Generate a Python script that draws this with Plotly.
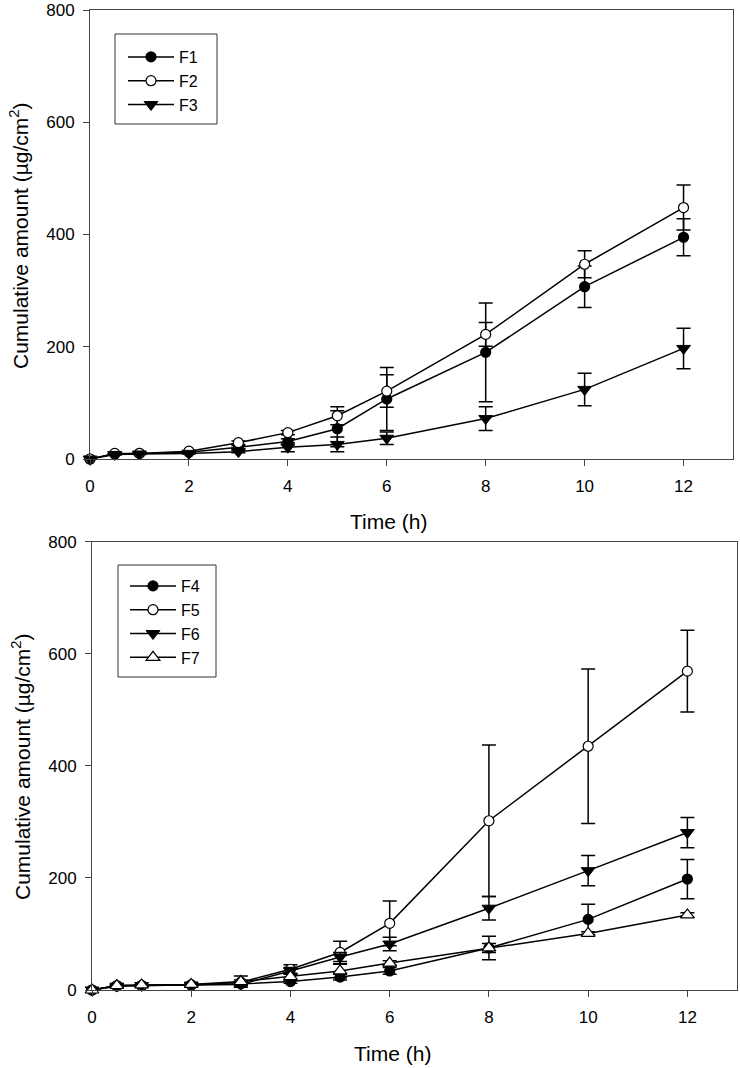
import plotly.graph_objects as go

time = [0, 0.5, 1, 2, 3, 4, 5, 6, 8, 10, 12]

# Top panel
f1 = [0, 9, 10, 12, 21, 31, 54, 107, 190, 307, 395]
f1_err = [0, 1, 1, 1, 3, 5, 32, 56, 88, 37, 33]
f2 = [0, 10, 10, 14, 29, 47, 77, 121, 222, 347, 448]
f2_err = [0, 1, 1, 1, 3, 4, 16, 29, 21, 24, 40]
f3 = [0, 8, 9, 10, 13, 21, 26, 37, 72, 124, 197]
f3_err = [0, 1, 1, 1, 2, 8, 13, 11, 21, 29, 36]

# Bottom panel
f4 = [0, 7, 8, 9, 11, 15, 23, 34, 75, 126, 198]
f4_err = [0, 1, 1, 1, 2, 3, 5, 6, 21, 27, 35]
f5 = [0, 8, 8, 9, 14, 37, 67, 119, 302, 435, 569]
f5_err = [0, 1, 1, 1, 4, 8, 20, 40, 135, 138, 73]
f6 = [0, 7, 8, 9, 10, 34, 59, 82, 146, 213, 281]
f6_err = [0, 1, 1, 1, 3, 6, 8, 12, 21, 27, 27]
f7 = [0, 8, 9, 10, 15, 24, 34, 48, 75, 101, 134]
f7_err = [0, 1, 1, 1, 10, 6, 12, 4, 8, 3, 4]

x_ticks = [0, 2, 4, 6, 8, 10, 12]
y_ticks = [0, 200, 400, 600, 800]

FONT = "Liberation Sans, Arial, sans-serif"

styles = {
    "filled": dict(symbol="circle", size=10, color="black", line=dict(color="black", width=1.2)),
    "open": dict(symbol="circle", size=10, color="white", line=dict(color="black", width=1.2)),
    "tridown": dict(symbol="triangle-down", size=12, color="black", line=dict(color="black", width=1)),
    "triup": dict(symbol="triangle-up", size=12, color="white", line=dict(color="black", width=1.2)),
}

fig = go.Figure()

def add(name, y, err, style, xa, ya, leg):
    fig.add_trace(go.Scatter(
        x=time, y=y, name=name, mode="lines+markers",
        line=dict(color="black", width=1.5),
        marker=styles[style],
        error_y=dict(type="data", array=err, color="black", thickness=1.5, width=7),
        xaxis=xa, yaxis=ya, legend=leg, cliponaxis=False,
    ))

add("F1", f1, f1_err, "filled", "x", "y", "legend")
add("F2", f2, f2_err, "open", "x", "y", "legend")
add("F3", f3, f3_err, "tridown", "x", "y", "legend")
add("F4", f4, f4_err, "filled", "x2", "y2", "legend2")
add("F5", f5, f5_err, "open", "x2", "y2", "legend2")
add("F6", f6, f6_err, "tridown", "x2", "y2", "legend2")
add("F7", f7, f7_err, "triup", "x2", "y2", "legend2")

W, H = 740, 1068

def px(v):
    return v / W

def py(v):
    return 1 - v / H

def xax(domain, anchor):
    return dict(domain=domain, anchor=anchor, range=[0, 13], tickvals=x_ticks,
                showline=True, linecolor="#444", linewidth=1, mirror=True,
                ticks="outside", ticklen=6, tickcolor="#444", showgrid=False, zeroline=False,
                automargin=False,
                tickfont=dict(family=FONT, size=17, color="black"), ticklabelstandoff=6)

def yax(domain, anchor):
    return dict(domain=domain, anchor=anchor, range=[0, 800], tickvals=y_ticks,
                showline=True, linecolor="#444", linewidth=1, mirror=True,
                ticks="outside", ticklen=6, tickcolor="#444", showgrid=False, zeroline=False,
                automargin=False,
                tickfont=dict(family=FONT, size=17, color="black"), ticklabelstandoff=5)

legend_common = dict(
    xanchor="left", yanchor="top", bgcolor="rgba(0,0,0,0)",
    borderwidth=0,
    font=dict(family=FONT, size=16, color="black"),
    tracegroupgap=0, itemwidth=46,
)

ytitle = "Cumulative amount (µg/cm<sup>2</sup>)"
title_font = dict(family=FONT, size=21, color="black")

def ann(text, x, y, angle=0):
    return dict(text=text, textangle=angle, x=px(x), y=py(y), xref="paper", yref="paper",
                xanchor="center", yanchor="middle", showarrow=False, font=title_font)

fig.update_layout(
    template="none",
    width=W, height=H,
    margin=dict(l=0, r=0, t=0, b=0, autoexpand=False),
    paper_bgcolor="white", plot_bgcolor="white",
    font=dict(family=FONT, color="black"),
    showlegend=True,
    xaxis=xax([px(90), px(733)], "y"),
    yaxis=yax([py(459), py(10)], "x"),
    xaxis2=xax([px(92), px(737)], "y2"),
    yaxis2=yax([py(990), py(541.7)], "x2"),
    legend=dict(x=px(123), y=py(40), **legend_common),
    legend2=dict(x=px(125), y=py(569), **legend_common),
    shapes=[
        dict(type="rect", xref="paper", yref="paper", x0=px(115), x1=px(217), y0=py(124), y1=py(34),
             line=dict(color="#333", width=1), fillcolor="rgba(0,0,0,0)", layer="below"),
        dict(type="rect", xref="paper", yref="paper", x0=px(118), x1=px(216), y0=py(677), y1=py(565),
             line=dict(color="#333", width=1), fillcolor="rgba(0,0,0,0)", layer="below"),
    ],
    annotations=[
        ann(ytitle, 19, 236, -90),
        ann(ytitle, 21, 767, -90),
        ann("Time (h)", 389, 521),
        ann("Time (h)", 392, 1053),
    ],
)

fig.write_html("out.html", config={"displayModeBar": False},
               post_script="document.body.style.margin='0';document.body.style.overflow='hidden';")
